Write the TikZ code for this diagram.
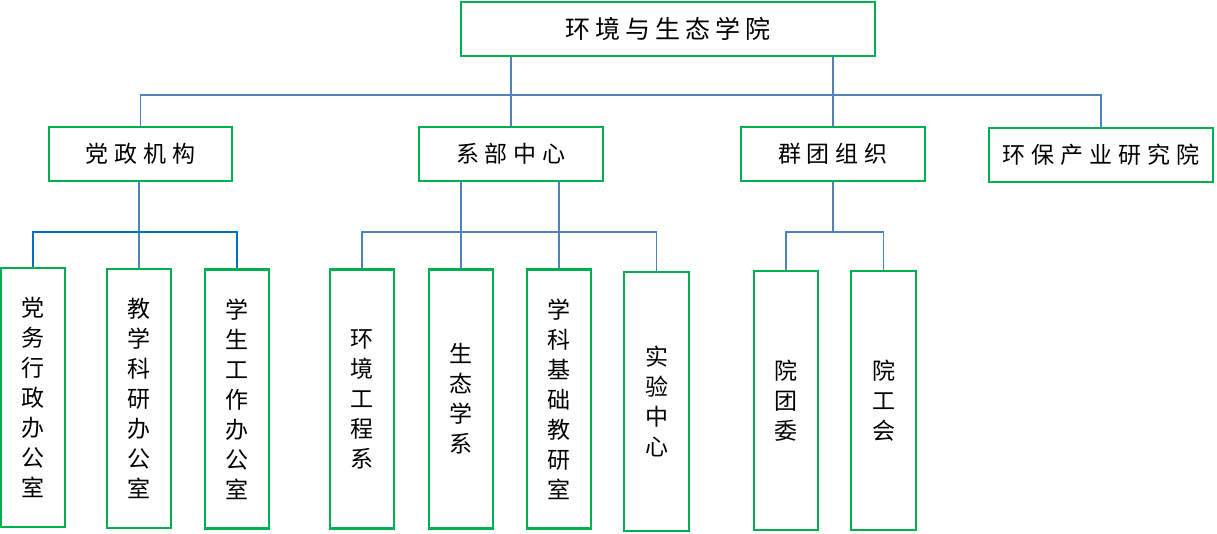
\documentclass[tikz,border=0pt]{standalone}
\usepackage{fontspec}
\setmainfont{Noto Sans CJK SC}
\definecolor{boxgreen}{HTML}{00B050}
\definecolor{lineblue}{HTML}{4F81BD}
\definecolor{lineblueb}{HTML}{0070C0}
\newcommand\hgap{\hspace{6pt}}
\tikzset{
  orgbox/.style={draw=boxgreen, line width=2.6pt, fill=white, inner sep=0pt, text=black},
  lvltwo/.style={orgbox, minimum width=183pt, minimum height=54pt, font=\fontsize{23}{26}\selectfont},
  lvlthree/.style={orgbox, minimum width=64pt, minimum height=259pt, align=center, font=\fontsize{23}{30}\selectfont},
  conn/.style={draw=lineblue, line width=1.8pt},
  connb/.style={draw=lineblueb, line width=1.8pt}
}
\begin{document}
\begin{tikzpicture}[x=1pt,y=-1pt]
\useasboundingbox (0,0) rectangle (1217,534);
% top
\node[orgbox, minimum width=414pt, minimum height=54pt, font=\fontsize{25}{28}\selectfont] (top) at (668,29) {环\hspace{5pt}境\hspace{5pt}与\hspace{5pt}生\hspace{5pt}态\hspace{5pt}学\hspace{5pt}院};
% level two
\node[lvltwo] (dz) at (140.5,154) {党\hgap 政\hgap 机\hgap 构};
\node[lvltwo, minimum width=184pt] (xb) at (511,154) {系\hgap 部\hgap 中\hgap 心};
\node[lvltwo, minimum width=184pt] (qt) at (833,154) {群\hgap 团\hgap 组\hgap 织};
\node[lvltwo, minimum width=224pt] (hb) at (1101,155) {环\hgap 保\hgap 产\hgap 业\hgap 研\hgap 究\hgap 院};
% level three
\node[lvlthree] (a1) at (33,397.5) {党\\务\\行\\政\\办\\公\\室};
\node[lvlthree] (a2) at (139,398.5) {教\\学\\科\\研\\办\\公\\室};
\node[lvlthree] (a3) at (237,399) {学\\生\\工\\作\\办\\公\\室};
\node[lvlthree] (b1) at (362,399) {环\\境\\工\\程\\系};
\node[lvlthree] (b2) at (461,399) {生\\态\\学\\系};
\node[lvlthree] (b3) at (559,399) {学\\科\\基\\础\\教\\研\\室};
\node[lvlthree, minimum width=65pt] (b4) at (656.5,401.5) {实\\验\\中\\心};
\node[lvlthree] (c1) at (786,400.5) {院\\团\\委};
\node[lvlthree, minimum width=65pt] (c2) at (883.5,400.5) {院\\工\\会};
% bus coordinates
\coordinate (busa) at (0,95);
\coordinate (busb) at (0,232);
% top connectors
\draw[conn] (xb.north) -- (xb.north |- top.south);
\draw[conn] (qt.north) -- (qt.north |- top.south);
\draw[conn] (dz.north) -- (dz.north |- busa) -- (hb.north |- busa) -- (hb.north);
% party branch
\draw[conn] (a2.north) -- (a2.north |- dz.south);
\draw[connb] (a1.north) -- (a1.north |- busb) -- (a3.north |- busb) -- (a3.north);
% department branch
\draw[conn] (b2.north) -- (b2.north |- xb.south);
\draw[conn] (b3.north) -- (b3.north |- xb.south);
\draw[conn] (b1.north) -- (b1.north |- busb) -- (b4.north |- busb) -- (b4.north);
% mass organisations
\draw[conn] (qt.south) -- (qt.south |- busb);
\draw[conn] (c1.north) -- (c1.north |- busb) -- (c2.north |- busb) -- (c2.north);
\end{tikzpicture}
\end{document}
